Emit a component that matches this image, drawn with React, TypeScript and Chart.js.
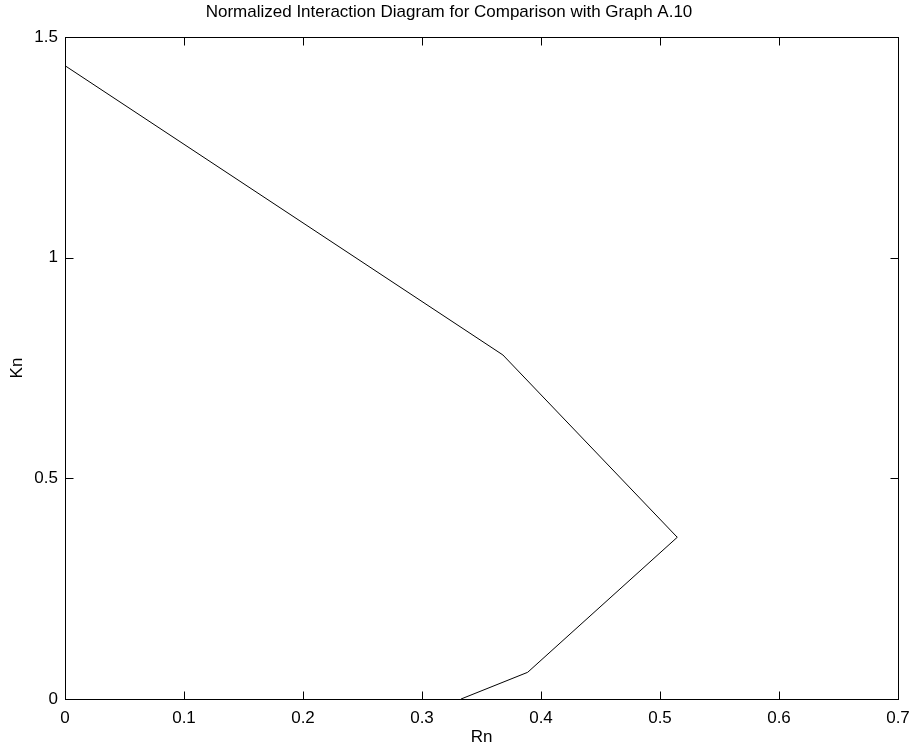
import React, { useEffect, useRef } from "react";
import { Chart, registerables } from "chart.js";

Chart.register(...registerables);

const TITLE = "Normalized Interaction Diagram for Comparison with Graph A.10";
const X_LABEL = "Rn";
const Y_LABEL = "Kn";
const rnValues = [0, 0.368, 0.5145, 0.3888, 0.3328];
const knValues = [1.435, 0.7795, 0.3664, 0.0605, 0];
const xTickValues = [0, 0.1, 0.2, 0.3, 0.4, 0.5, 0.6, 0.7];
const xTickLabels = ["0", "0.1", "0.2", "0.3", "0.4", "0.5", "0.6", "0.7"];
const yTickValues = [0, 0.5, 1, 1.5];
const yTickLabels = ["0", "0.5", "1", "1.5"];

const FONT = "'Liberation Sans', Arial, Helvetica, sans-serif";
const FS = 17;

const framePlugin = {
  id: "frameTicks",
  afterDraw(chart: any) {
    const { ctx, chartArea } = chart;
    const xs = chart.scales.x;
    const ys = chart.scales.y;
    const L = Math.round(chartArea.left) + 0.5;
    const R = Math.round(chartArea.right) + 0.5;
    const T = Math.round(chartArea.top) + 0.5;
    const B = Math.round(chartArea.bottom) + 0.5;
    const len = 8;
    ctx.save();
    ctx.strokeStyle = "#000";
    ctx.lineWidth = 1;
    ctx.beginPath();
    xTickValues.forEach((v) => {
      const px = Math.round(xs.getPixelForValue(v)) + 0.5;
      ctx.moveTo(px, B);
      ctx.lineTo(px, B - len);
      ctx.moveTo(px, T);
      ctx.lineTo(px, T + len);
    });
    yTickValues.forEach((v) => {
      const py = Math.round(ys.getPixelForValue(v)) + 0.5;
      ctx.moveTo(L, py);
      ctx.lineTo(L + len, py);
      ctx.moveTo(R, py);
      ctx.lineTo(R - len, py);
    });
    ctx.stroke();
    ctx.strokeRect(L, T, R - L, B - T);
    ctx.restore();
  },
};

export default function App() {
  const ref = useRef<HTMLCanvasElement | null>(null);
  useEffect(() => {
    if (!ref.current) return;
    const points = rnValues.map((x, i) => ({ x, y: knValues[i] }));
    const chart = new Chart(ref.current, {
      type: "scatter",
      data: {
        datasets: [
          {
            data: points,
            showLine: true,
            borderColor: "#000",
            borderWidth: 1,
            pointRadius: 0,
            fill: false,
            tension: 0,
          },
        ],
      },
      options: {
        responsive: false,
        animation: false,
        layout: { padding: { left: 0, right: 16, top: 0, bottom: 0 } },
        plugins: {
          legend: { display: false },
          tooltip: { enabled: false },
          title: {
            display: true,
            text: TITLE,
            color: "#000",
            font: { family: FONT, size: FS, weight: "normal" },
            padding: { top: 2, bottom: 14.6 },
          },
        },
        scales: {
          x: {
            type: "linear",
            min: 0,
            max: 0.7,
            afterFit: (s: any) => {
              s.height = 52;
              s.paddingLeft = 0;
              s.paddingRight = 0;
            },
            afterBuildTicks: (s: any) => {
              s.ticks = xTickValues.map((v) => ({ value: v }));
            },
            grid: { display: false, drawTicks: false },
            border: { display: false },
            ticks: {
              color: "#000",
              padding: 9,
              maxRotation: 0,
              autoSkip: false,
              font: { family: FONT, size: FS },
              callback: (v: any) => {
                const i = xTickValues.findIndex((t) => Math.abs(t - Number(v)) < 1e-9);
                return i >= 0 ? xTickLabels[i] : "";
              },
            },
            title: {
              display: true,
              text: X_LABEL,
              color: "#000",
              font: { family: FONT, size: FS },
              padding: 3,
            },
          },
          y: {
            type: "linear",
            min: 0,
            max: 1.5,
            afterFit: (s: any) => {
              s.width = 65;
              s.paddingTop = 0;
              s.paddingBottom = 0;
            },
            afterBuildTicks: (s: any) => {
              s.ticks = yTickValues.map((v) => ({ value: v }));
            },
            grid: { display: false, drawTicks: false },
            border: { display: false },
            ticks: {
              color: "#000",
              padding: 7,
              autoSkip: false,
              font: { family: FONT, size: FS },
              callback: (v: any) => {
                const i = yTickValues.findIndex((t) => Math.abs(t - Number(v)) < 1e-9);
                return i >= 0 ? yTickLabels[i] : "";
              },
            },
            title: {
              display: true,
              text: Y_LABEL,
              color: "#000",
              font: { family: FONT, size: FS },
              padding: 7,
            },
          },
        },
      },
      plugins: [framePlugin],
    });
    return () => chart.destroy();
  }, []);
  return (
    <div style={{ position: "absolute", left: 0, top: 0, width: 914, height: 751, background: "#fff" }}>
      <canvas ref={ref} width={914} height={751} style={{ display: "block" }} />
    </div>
  );
}
